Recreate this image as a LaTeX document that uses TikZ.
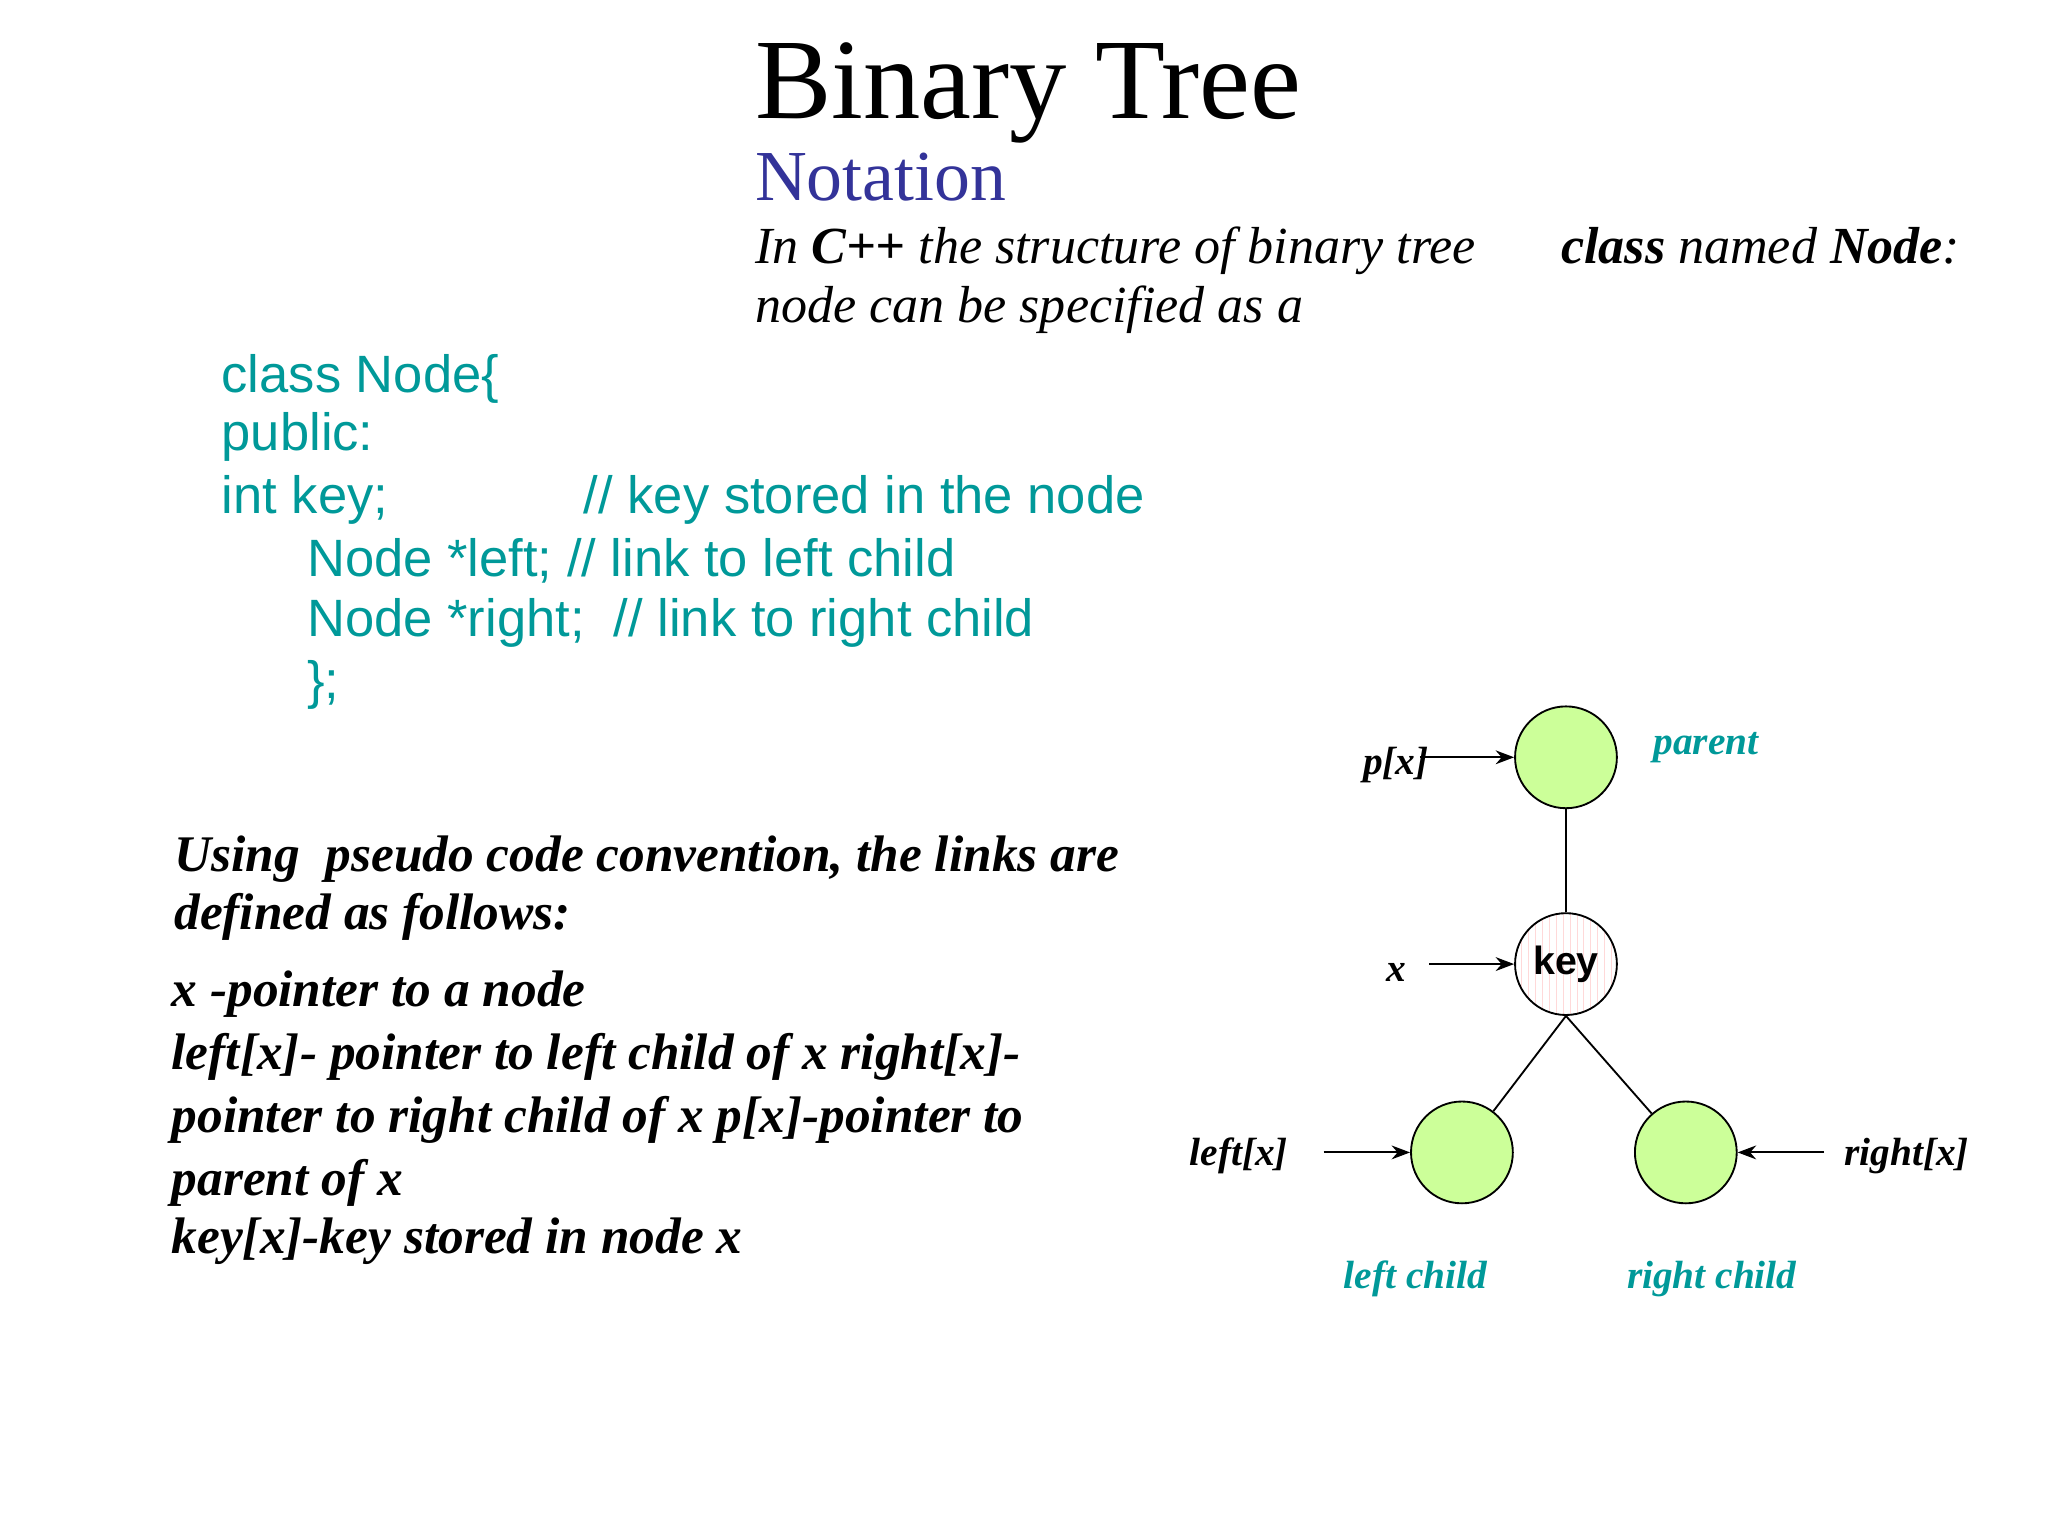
\documentclass[tikz,border=0pt]{standalone}
\usepackage{fontspec}
\setmainfont{Liberation Serif}
\newfontfamily\arialf{Liberation Sans}
\usetikzlibrary{arrows.meta,patterns}
\definecolor{teal1}{RGB}{0,153,153}
\definecolor{navy1}{RGB}{51,51,153}
\definecolor{lgreen}{RGB}{204,255,153}
\begin{document}
\begin{tikzpicture}[x=0.02cm,y=-0.02cm,
  txt/.style={anchor=base west,inner sep=0pt},
  code/.style={txt,font=\arialf\fontsize{22.7}{28}\selectfont,text=teal1},
  bi/.style={txt,font=\fontsize{22.2}{28}\selectfont\bfseries\itshape},
  lab/.style={txt,font=\fontsize{17}{20}\selectfont\bfseries\itshape},
  tlab/.style={lab,text=teal1},
  tn/.style={circle,draw,thick,minimum size=44pt,inner sep=0pt},
  arr/.style={-{Stealth[length=8pt,width=6pt]},thick}]
\useasboundingbox (0,0) rectangle (1555,1166);
\node[txt,font=\fontsize{49.5}{60}\selectfont] (title) at (573,90) {Binary Tree};
\node[txt,font=\fontsize{31}{38}\selectfont,text=navy1] (nota) at (573,152) {Notation};
\node[txt,font=\fontsize{22.5}{28}\selectfont\itshape] (in1) at (573,200) {In \textbf{C++} the structure of binary tree};
\node[txt,font=\fontsize{22.5}{28}\selectfont\itshape] (in2) at (573,245) {node can be specified as a};
\node[txt,font=\fontsize{22.5}{28}\selectfont\itshape] (cn) at (1185,200) {\textbf{class} named \textbf{Node}:};
\node[code] (c1) at (168,298) {class Node\{};
\node[code] (c2) at (168,342) {public:};
\node[code] (c3) at (168,390) {int key;};
\node[code] (c3b) at (443,390) {// key stored in the node};
\node[code] (c4) at (233,438) {Node *left; // link to left child};
\node[code] (c5) at (233,483) {Node *right;\ \ // link to right child};
\node[code] (c6) at (233,530) {\};};
\node[bi] (u1) at (132,662) {Using\ \ pseudo code convention, the links are};
\node[bi] (u2) at (132,706) {defined as follows:};
\node[bi] (u3) at (130,764) {x -pointer to a node};
\node[bi] (u4) at (130,812) {left[x]- pointer to left child of x right[x]-};
\node[bi] (u5) at (130,860) {pointer to right child of x p[x]-pointer to};
\node[bi] (u6) at (130,908) {parent of x};
\node[bi] (u7) at (130,952) {key[x]-key stored in node x};
% tree
\node[tn,fill=lgreen] (par) at (1189,575) {};
\node[tn,fill=white,pattern=vertical lines,pattern color=pink!60] (key) at (1189,732) {};
\node[font=\arialf\fontsize{17}{20}\selectfont\bfseries] (keyt) at (1189,732) {key};
\node[tn,fill=lgreen] (lc) at (1110,875) {};
\node[tn,fill=lgreen] (rc) at (1280,875) {};
\draw[thick] (par) -- (key);
\draw[thick] (key.south) -- (lc);
\draw[thick] (key.south) -- (rc);
\node[lab,anchor=base east] (px) at (1085,588) {p[x]};
\coordinate (pxs) at (1078,575);
\draw[arr] (pxs) -- (par.west);
\node[lab] (xl) at (1052,745) {x};
\coordinate (xs) at (1085,732);
\draw[arr] (xs) -- (key.west);
\node[lab] (lx) at (903,885) {left[x]};
\coordinate (lxs) at (1005,875);
\draw[arr] (lxs) -- (lc.west);
\node[lab] (rx) at (1400,885) {right[x]};
\coordinate (rxs) at (1385,875);
\draw[arr] (rxs) -- (rc.east);
\node[tlab] (pl) at (1255,573) {parent};
\node[tlab] (ll) at (1020,978) {left child};
\node[tlab] (rl) at (1235,978) {right child};
\end{tikzpicture}
\end{document}
